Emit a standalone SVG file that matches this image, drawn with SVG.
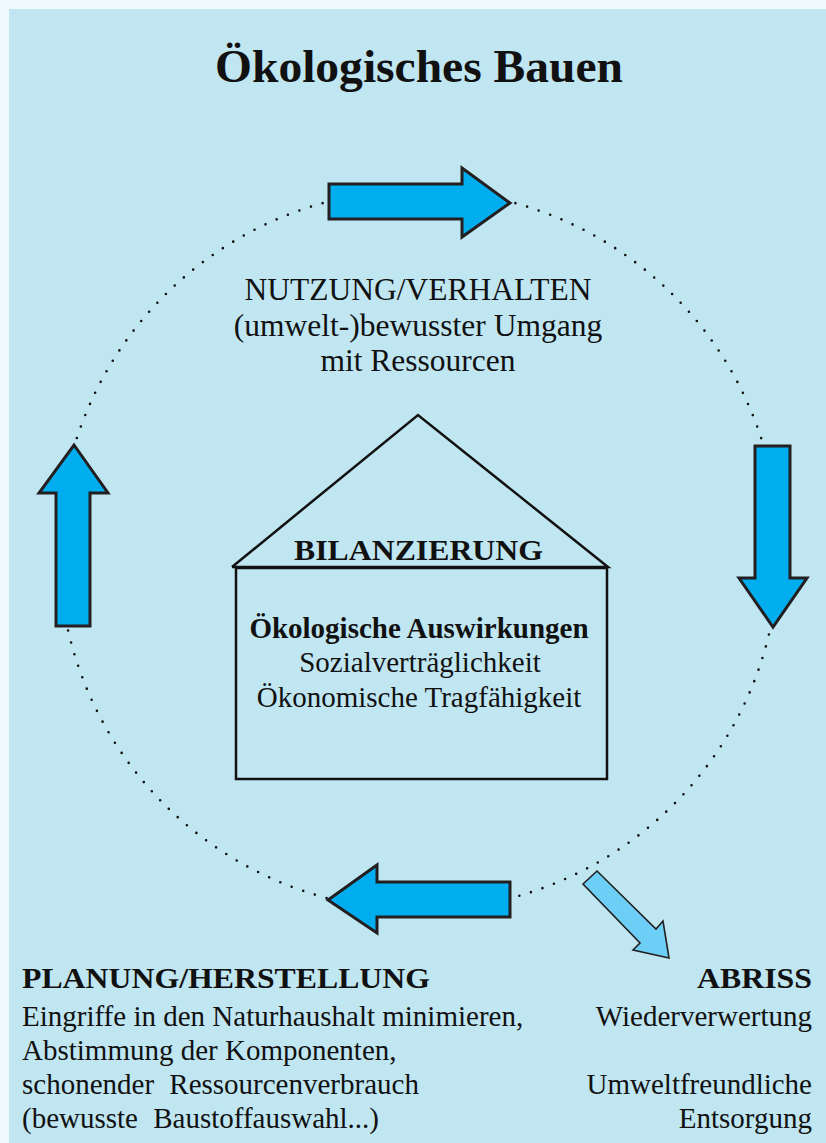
<svg xmlns="http://www.w3.org/2000/svg" width="826" height="1143" viewBox="0 0 826 1143">
  <style>
    .t { font-family: "Liberation Serif", "Times New Roman", serif; fill: #111; }
    .b { font-weight: bold; }
    .c { text-anchor: middle; }
    .e { text-anchor: end; }
    .r29 { font-size: 29px; }
    .arrow { fill: #00aeef; stroke: #231f20; stroke-width: 3; stroke-linejoin: miter; }
    .arrow2 { fill: #6dcff6; stroke: #231f20; stroke-width: 1.6; }
    .house { fill: none; stroke: #111; stroke-width: 2.5; }
  </style>
  <rect x="0" y="0" width="826" height="1143" fill="#eff9fc"/>
  <rect x="9" y="9" width="817" height="1134" fill="#c0e6f1"/>

  <g id="title">
    <text class="t b c" x="419" y="82" font-size="46" textLength="408" lengthAdjust="spacingAndGlyphs">Ökologisches Bauen</text>
  </g>

  <g id="connectors">
    <circle cx="419" cy="550" r="360" fill="none" stroke="#111" stroke-width="2.6" stroke-linecap="round" stroke-dasharray="0 12.2"/>
    <polygon class="arrow" points="329,184 462,184 462,168 510,203 462,237 462,219 329,219"/>
    <polygon class="arrow" points="755,446 790,446 790,578 807,578 773,627 739,578 755,578"/>
    <polygon class="arrow" points="510,882 377,882 377,865 328,900 377,933 377,917 510,917"/>
    <polygon class="arrow" points="90,626 56,626 56,493 39,493 74,445 108,493 90,493"/>
    <polygon class="arrow2" points="583,884 597,871 656,929 663,921 669,958 633,950 640,943"/>
  </g>

  <g id="nutzung">
    <text class="t c" x="418" y="300" font-size="31.5">NUTZUNG/VERHALTEN</text>
    <text class="t c" x="418" y="336" font-size="31.5">(umwelt-)bewusster Umgang</text>
    <text class="t c" x="418" y="371" font-size="31.5">mit Ressourcen</text>
  </g>

  <g id="bilanzierung">
    <polyline class="house" points="232,567 418,415 608,567 232,567"/>
    <rect class="house" x="236" y="568" width="371" height="211"/>
    <text class="t b c" x="418.5" y="560" font-size="30" textLength="249" lengthAdjust="spacingAndGlyphs">BILANZIERUNG</text>
    <text class="t b c r29" x="419" y="638">Ökologische Auswirkungen</text>
    <text class="t c r29" x="420" y="672">Sozialverträglichkeit</text>
    <text class="t c r29" x="419" y="707">Ökonomische Tragfähigkeit</text>
  </g>

  <g id="planung">
    <text class="t b" x="22" y="988" font-size="29" textLength="408" lengthAdjust="spacingAndGlyphs">PLANUNG/HERSTELLUNG</text>
    <text class="t r29" x="22" y="1026">Eingriffe in den Naturhaushalt minimieren,</text>
    <text class="t r29" x="22" y="1060">Abstimmung der Komponenten,</text>
    <text class="t r29" x="22" y="1094" word-spacing="8">schonender Ressourcenverbrauch</text>
    <text class="t r29" x="22" y="1128" word-spacing="8">(bewusste Baustoffauswahl...)</text>
  </g>

  <g id="abriss">
    <text class="t b e" x="812" y="988" font-size="29" textLength="115" lengthAdjust="spacingAndGlyphs">ABRISS</text>
    <text class="t e r29" x="812" y="1026">Wiederverwertung</text>
    <text class="t e r29" x="812" y="1094">Umweltfreundliche</text>
    <text class="t e r29" x="812" y="1128">Entsorgung</text>
  </g>
</svg>
